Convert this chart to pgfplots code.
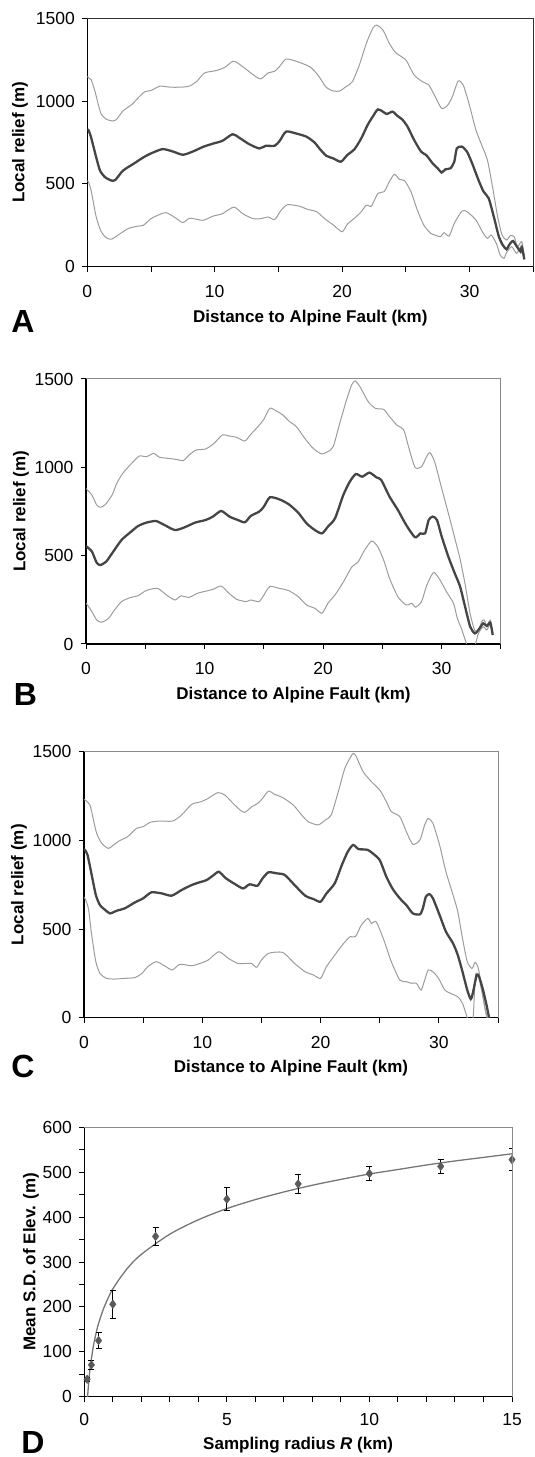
\documentclass[border=0pt]{standalone}
\usepackage{fontspec}
\setmainfont{Liberation Sans}
\usepackage{pgfplots}
\pgfplotsset{compat=1.18}
\definecolor{bandc}{HTML}{9C9C9C}
\definecolor{meanc}{HTML}{454545}
\definecolor{framec}{HTML}{8A8A8A}
\definecolor{markc}{HTML}{5A5A5A}
\definecolor{fitc}{HTML}{767676}

\pgfplotsset{
  panel/.style={
    scale only axis,
    axis x line*=bottom, axis y line*=left,
    axis line style={black, line width=1.3pt},
    tick align=outside, major tick length=5pt, minor tick length=5pt,
    tick style={black, line width=1pt},
    tick label style={font=\fontsize{17.5}{20}\selectfont},
    yticklabel style={xshift=-4pt},
    label style={font=\fontsize{17}{20}\selectfont\bfseries},
    /pgf/number format/assume math mode=true,
    /pgf/number format/set thousands separator={},
    clip mode=individual,
  },
  relief/.style={
    panel,
    xmin=0, xmax=35, ymin=0, ymax=1500,
    xtick={0,10,20,30}, minor xtick={5,15,25,35},
    ytick={0,500,1000,1500},
    xticklabel style={yshift=-10pt},
    xlabel={Distance to Alpine Fault (km)},
    ylabel={Local relief (m)},
  },
  band/.style={color=bandc, line width=1pt, no marks, smooth, tension=0.4},
  mean/.style={color=meanc, line width=2.3pt, no marks, smooth, tension=0.4},
}
\newcommand{\panelframe}[1][framec]{\draw[#1, line width=1pt] (rel axis cs:0,1) -- (rel axis cs:1,1) -- (rel axis cs:1,0);}

\begin{document}
\begin{tikzpicture}
\useasboundingbox (0pt,0pt) rectangle (535pt,1457pt);

% ---------------- A ----------------
\begin{axis}[relief, at={(87.3pt,1190.3pt)}, anchor=south west,
    width=446pt, height=248.4pt,
    xlabel style={at={(axis description cs:0.5,-0.2065)}, anchor=center},
    ylabel style={at={(axis description cs:-0.151,0.5)}, anchor=center}]
\addplot[band] coordinates {
(0,1150) (0.1,1140) (0.3,1130) (0.6,1060) (0.86,980) (1.1,920) (1.5,890) (2.0,880) (2.3,890) (2.8,940)
(3.5,980) (4.0,1020) (4.5,1056) (5.0,1064) (5.7,1090) (6.5,1084) (7.3,1084) (8.0,1090) (8.6,1120) (9.2,1170)
(10.1,1184) (10.8,1204) (11.4,1240) (11.8,1230) (12.5,1190) (13.0,1160) (13.6,1134) (14.2,1170) (14.7,1180)
(15.1,1210) (15.6,1254) (16.4,1240) (17.45,1208) (18.1,1157) (18.75,1083) (19.3,1061) (19.8,1061) (20.3,1087)
(20.8,1117) (21.35,1218) (21.9,1349) (22.4,1439) (22.7,1459) (23.2,1429) (23.7,1349) (24.2,1292) (25.0,1248)
(25.65,1157) (26.3,1117) (26.8,1097) (27.3,1027) (27.8,956) (28.25,972) (28.65,1027) (29.1,1121) (29.5,1097)
(29.95,986) (30.5,825) (31.0,725) (31.4,644) (31.8,483) (32.2,302) (32.55,191) (32.9,161) (33.2,187)
(33.5,181) (33.75,121) (34.1,151) (34.3,50)
};
\addplot[band] coordinates {
(0,520) (0.1,510) (0.3,460) (0.7,300) (1.1,210) (1.5,174) (1.9,166) (2.4,190) (3.2,230) (3.9,244) (4.4,250)
(5.0,290) (5.7,316) (6.2,326) (6.9,296) (7.5,266) (8.0,292) (8.6,286) (9.1,280) (9.9,306) (10.6,320) (11.5,360)
(12.2,320) (13.0,290) (13.6,290) (14.2,300) (14.7,284) (15.2,340) (15.7,374) (16.6,366) (17.3,346) (18.0,332)
(18.6,292) (19.3,252) (20.0,211) (20.4,256) (20.96,292) (21.5,332) (21.9,372) (22.3,366) (22.8,443) (23.3,453)
(23.7,513) (24.1,558) (24.5,527) (24.9,519) (25.4,453) (25.9,342) (26.4,252) (26.95,201) (27.3,191) (27.7,181)
(28.0,205) (28.4,185) (28.8,262) (29.4,336) (29.8,332) (30.5,282) (31.0,211) (31.4,171) (31.7,191) (32.1,141)
(32.4,70) (32.7,50) (32.9,85) (33.3,121) (33.7,80) (34.1,131) (34.3,60)
};
\addplot[mean] coordinates {
(0,830) (0.1,824) (0.3,780) (0.7,660) (1.0,580) (1.4,540) (1.9,520) (2.2,524) (2.8,580) (3.6,620) (4.4,660)
(5.0,684) (5.9,710) (6.7,696) (7.5,676) (8.3,696) (9.1,724) (9.9,744) (10.6,760) (11.4,800) (11.9,780)
(12.7,740) (13.5,714) (14.0,730) (14.7,730) (15.1,760) (15.6,816) (16.4,804) (17.2,785) (17.85,749) (18.2,715)
(18.75,670) (19.3,654) (19.9,634) (20.4,674) (20.96,709) (21.5,775) (22.0,856) (22.4,906) (22.8,950) (23.2,936)
(23.5,922) (23.96,936) (24.35,910) (24.7,890) (25.1,850) (25.65,765) (26.2,694) (26.6,674) (27.1,624) (27.5,594)
(27.8,568) (28.1,588) (28.5,594) (28.8,634) (29.0,715) (29.4,725) (29.8,694) (30.2,624) (30.7,523) (31.1,453)
(31.5,413) (31.9,302) (32.3,181) (32.6,131) (32.9,105) (33.1,131) (33.4,155) (33.75,117) (34.0,91) (34.1,117)
(34.3,44)
};
\panelframe[black!80]
\end{axis}

% ---------------- B ----------------
\begin{axis}[relief, at={(86pt,813pt)}, anchor=south west,
    width=415pt, height=265pt,
    xlabel style={at={(axis description cs:0.5,-0.1925)}, anchor=center},
    ylabel style={at={(axis description cs:-0.1566,0.5)}, anchor=center}]
\addplot[band] coordinates {
(0,880) (0.06,876) (0.5,843) (0.9,787) (1.2,774) (1.6,787) (2.2,843) (2.6,910) (3.1,966) (3.8,1019) (4.5,1064)
(5.1,1060) (5.7,1079) (6.2,1057) (6.9,1051) (7.6,1045) (8.2,1038) (8.7,1070) (9.3,1098) (10.1,1104) (10.8,1136)
(11.5,1183) (12.1,1177) (12.7,1170) (13.4,1149) (13.9,1187) (14.5,1230) (15.0,1272) (15.5,1334) (16.0,1321)
(16.6,1296) (17.15,1260) (17.75,1230) (18.45,1164) (19.15,1108) (19.86,1076) (20.4,1089) (20.85,1117) (21.4,1249)
(21.97,1381) (22.4,1466) (22.7,1489) (23.1,1457) (23.8,1372) (24.4,1334) (25.1,1328) (25.6,1287) (26.2,1240)
(26.8,1211) (27.2,1117) (27.75,1000) (28.3,1004) (28.7,1057) (29.0,1083) (29.4,1032) (30.0,880) (30.56,740)
(31.1,600) (31.55,480) (31.97,340) (32.4,170) (32.8,75) (33.1,80) (33.4,130) (33.6,135) (33.8,100) (34.1,135)
(34.3,55)
};
\addplot[band] coordinates {
(0,230) (0.06,226) (0.5,183) (0.9,136) (1.3,123) (1.9,145) (2.4,192) (3.0,240) (3.7,262) (4.4,274) (5.0,300)
(5.5,311) (6.1,313) (6.8,277) (7.5,249) (8.0,272) (8.7,264) (9.4,287) (10.3,302) (10.7,309) (11.4,328)
(12.0,291) (12.7,253) (13.5,240) (13.9,249) (14.6,240) (15.0,277) (15.5,325) (16.3,315) (17.1,302) (17.9,268)
(18.6,221) (19.3,202) (19.9,174) (20.4,230) (21.1,287) (21.8,362) (22.4,434) (22.96,466) (23.5,532) (24.1,583)
(24.6,551) (25.1,476) (25.6,372) (26.3,268) (27.0,221) (27.5,230) (27.8,208) (28.3,240) (28.7,325) (29.15,391)
(29.4,404) (29.86,362) (30.4,296) (31.0,230) (31.3,150) (31.7,80) (32.1,0) (32.5,-60) (32.85,0) (33.1,60)
(33.5,98) (33.8,79) (34.1,113) (34.3,60)
};
\addplot[mean] coordinates {
(0,550) (0.06,551) (0.5,523) (0.9,460) (1.2,447) (1.7,466) (2.3,523) (3.0,589) (3.7,630) (4.4,668) (5.1,687)
(5.9,696) (6.6,674) (7.5,645) (8.3,660) (9.2,687) (10.1,702) (10.7,721) (11.4,753) (12.1,721) (12.8,702)
(13.4,689) (13.9,725) (14.6,749) (15.0,777) (15.5,830) (16.3,819) (17.1,791) (17.9,743) (18.6,683) (19.3,645)
(19.9,626) (20.4,664) (21.0,711) (21.7,843) (22.25,919) (22.76,962) (23.3,947) (23.9,970) (24.5,943) (24.9,928)
(25.6,834) (26.3,759) (27.0,674) (27.75,604) (28.2,626) (28.6,626) (28.9,702) (29.24,721) (29.6,702) (30.0,608)
(30.56,494) (31.1,400) (31.55,325) (31.97,211) (32.4,98) (32.8,60) (33.2,89) (33.5,117) (33.8,102) (34.1,121)
(34.3,51)
};
\panelframe
\end{axis}

% ---------------- C ----------------
\begin{axis}[relief, at={(84pt,439.3pt)}, anchor=south west,
    width=414pt, height=266pt,
    xlabel style={at={(axis description cs:0.5,-0.189)}, anchor=center},
    ylabel style={at={(axis description cs:-0.157,0.5)}, anchor=center}]
\addplot[band] coordinates {
(0,1230) (0.08,1228) (0.5,1200) (0.8,1115) (1.07,1040) (1.5,983) (2.05,955) (2.5,974) (3.0,998) (3.7,1021)
(4.45,1068) (5.0,1077) (5.6,1102) (6.4,1109) (7.5,1109) (8.25,1143) (9.1,1203) (9.9,1218) (10.5,1237)
(11.3,1269) (11.9,1256) (12.6,1209) (13.2,1171) (13.6,1158) (14.2,1190) (14.7,1209) (15.1,1237) (15.6,1278)
(16.1,1260) (16.8,1241) (17.7,1199) (18.4,1143) (18.96,1105) (19.8,1087) (20.4,1115) (20.9,1143) (21.5,1275)
(22.05,1406) (22.5,1465) (22.75,1490) (23.0,1475) (23.6,1387) (24.3,1331) (25.0,1284) (25.56,1218) (25.98,1162)
(26.7,1134) (27.25,1049) (27.8,978) (28.4,1002) (28.8,1087) (29.1,1124) (29.5,1096) (30.06,974) (30.6,823)
(31.2,692) (31.6,598) (32.0,447) (32.4,316) (32.8,278) (33.06,312) (33.3,288) (33.6,184) (33.85,71) (34.07,0)
(34.2,-30)
};
\addplot[band] coordinates {
(0,680) (0.08,673) (0.37,617) (0.65,466) (1.0,316) (1.35,250) (1.9,222) (2.6,218) (3.46,222) (4.3,226)
(4.9,250) (5.4,288) (6.1,316) (6.8,293) (7.46,269) (8.1,301) (9.1,293) (9.8,306) (10.5,325) (11.4,372)
(12.2,335) (13.0,306) (13.7,306) (14.16,306) (14.6,284) (15.0,325) (15.6,363) (16.8,368) (17.8,306) (18.7,259)
(19.4,241) (20.0,222) (20.5,288) (21.2,353) (21.9,415) (22.5,457) (22.95,457) (23.45,523) (24.0,560) (24.3,532)
(24.7,541) (25.3,447) (25.98,316) (26.7,212) (27.25,203) (27.7,194) (28.1,194) (28.5,156) (28.8,212) (29.1,269)
(29.5,259) (29.97,222) (30.5,156) (31.0,137) (31.6,118) (32.0,81) (32.4,0) (32.65,-60) (32.9,0) (33.1,241)
(33.4,222) (33.85,71) (34.07,0) (34.2,-30)
};
\addplot[mean] coordinates {
(0,950) (0.08,946) (0.3,917) (0.65,805) (1.0,692) (1.35,635) (1.8,607) (2.2,588) (2.76,603) (3.46,617)
(4.3,650) (5.0,673) (5.7,707) (6.56,701) (7.4,688) (8.25,720) (9.1,748) (9.65,761) (10.36,776) (10.9,801)
(11.4,823) (12.0,786) (12.75,754) (13.45,729) (14.0,752) (14.66,744) (15.1,786) (15.6,820) (16.3,814)
(16.97,805) (17.8,748) (18.7,688) (19.4,669) (20.0,654) (20.5,701) (21.2,758) (21.8,861) (22.3,936) (22.75,974)
(23.2,951) (23.6,949) (24.0,946) (24.4,927) (25.0,889) (25.56,795) (26.1,726) (26.7,673) (27.25,635) (27.8,588)
(28.4,583) (28.65,617) (28.9,682) (29.2,697) (29.5,673) (30.06,579) (30.6,485) (31.2,419) (31.6,353) (32.0,259)
(32.4,156) (32.7,105) (32.9,147) (33.2,241) (33.4,231) (33.7,165) (34.0,81) (34.2,15) (34.3,-20)
};
\panelframe
\end{axis}

% ---------------- D ----------------
\begin{axis}[panel, at={(84.3pt,60.3pt)}, anchor=south west,
    width=427.7pt, height=269.4pt,
    xmin=0, xmax=15, ymin=0, ymax=600,
    xtick={0,5,10,15}, minor x tick num=4,
    ytick={0,100,...,600}, minor y tick num=1,
    xticklabel style={yshift=-8pt},
    xlabel={Sampling radius \textit{R} (km)},
    ylabel={Mean S.D. of Elev. (m)},
    axis line style={black, line width=1.1pt},
    xlabel style={at={(axis description cs:0.5,-0.179)}, anchor=center},
    ylabel style={at={(axis description cs:-0.1246,0.5)}, anchor=center}]
% logarithmic fit
\addplot[fitc, line width=1.3pt, no marks, smooth] coordinates {
(0.10,-16) (0.116,0) (0.15,29) (0.2,61) (0.3,106) (0.4,138) (0.5,163) (0.7,200) (1,240) (1.5,285) (2,317)
(3,362) (4,394) (5,419) (6,439) (7,456) (8,471) (9,484) (10,496) (11,506) (12,516) (13,525) (14,533) (15,541)
};
\addplot[only marks, mark=diamond*, mark size=4.3pt,
    mark options={fill=markc, draw=markc},
    error bars/.cd, y dir=both, y explicit,
    error bar style={black, line width=0.8pt},
    error mark options={black, mark size=3pt, line width=0.8pt, rotate=90}]
coordinates {
(0.1,39) +- (0,5)
(0.25,71) +- (0,10)
(0.5,125) +- (0,18)
(1,206) +- (0,31)
(2.5,357) +- (0,20)
(5,440) +- (0,26)
(7.5,474) +- (0,21)
(10,497) +- (0,15)
(12.5,513) +- (0,16)
(15,528) +- (0,24)
};
\panelframe
\end{axis}

% panel letters
\node[font=\fontsize{32}{36}\selectfont\bfseries] at (23pt,1135.5pt) {A};
\node[font=\fontsize{32}{36}\selectfont\bfseries] at (25.5pt,762.5pt) {B};
\node[font=\fontsize{32}{36}\selectfont\bfseries] at (23pt,391pt) {C};
\node[font=\fontsize{32}{36}\selectfont\bfseries] at (33pt,15pt) {D};
\end{tikzpicture}
\end{document}
